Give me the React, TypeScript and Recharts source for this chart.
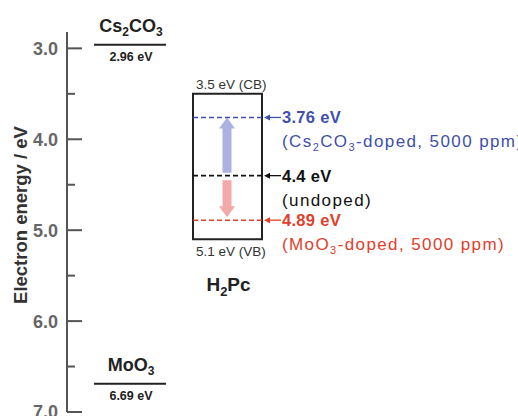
import React from 'react';
import { ComposedChart, XAxis, YAxis, Scatter, ReferenceLine, ReferenceArea } from 'recharts';

// energy axis (eV, increasing downwards)
const yTicks = [3, 3.5, 4, 4.5, 5, 5.5, 6, 6.5, 7];

// dopant work functions
const dopantNames = ['Cs2CO3', 'MoO3'];
const dopantLevels = [2.96, 6.69];

// H2Pc band edges
const hostName = 'H2Pc';
const bandNames = ['CB', 'VB'];
const bandLevels = [3.5, 5.1];

// Fermi levels of the H2Pc films
const fermiLevels = [3.76, 4.4, 4.89];
const fermiNotes = ['(Cs2CO3-doped, 5000 ppm)', '(undoped)', '(MoO3-doped, 5000 ppm)'];

const fermiColors = ['#3f4fac', '#111111', '#e2402a'];
const arrowColors = ['#adb1e2', '#f2a9a9'];
const FONT = '"Liberation Sans", Arial, Helvetica, sans-serif';

// horizontal layout (x axis units = px from the energy axis)
const COL_DOPANT = [27, 99];
const COL_BOX = [126, 195];
const ARROW_X = 160;

// digits right after a letter become subscripts
const chem = (text: string, sub: number, shift: number) => {
  const pieces: { t: string; s: boolean }[] = [];
  for (let i = 0; i < text.length; i++) {
    const c = text[i];
    const s = /\d/.test(c) && i > 0 && /[A-Za-z]/.test(text[i - 1]);
    const last = pieces[pieces.length - 1];
    if (last && !s && !last.s) last.t += c;
    else pieces.push({ t: c, s });
  }
  let down = false;
  return pieces.map((p, i) => {
    let dy = 0;
    if (p.s && !down) { dy = shift; down = true; }
    else if (!p.s && down) { dy = -shift; down = false; }
    return (
      <tspan key={i} dy={dy || undefined} fontSize={p.s ? sub : undefined}>{p.t}</tspan>
    );
  });
};

const EnergyTick = (props: any) => {
  const { x, y, payload } = props;
  const major = Number.isInteger(payload.value);
  return (
    <g>
      <line x1={x} x2={x + (major ? 15 : 8)} y1={y} y2={y} stroke="#555" strokeWidth={2} />
      {major && (
        <text x={x - 9} y={y} dy="0.36em" textAnchor="end" fontFamily={FONT} fontSize={18} fontWeight="bold" fill="#666">
          {payload.value.toFixed(1)}
        </text>
      )}
    </g>
  );
};

const fatArrow = (color: string, startGap: number, tipGap: number) => (p: any) => {
  const { x1, y1, y2 } = p;
  const dir = y2 > y1 ? 1 : -1;
  const ys = y1 + dir * startGap;
  const yt = y2 - dir * tipGap;
  const yh = yt - dir * 11;
  const pts = [
    [x1 - 4.5, ys], [x1 + 4.5, ys], [x1 + 4.5, yh], [x1 + 8, yh],
    [x1, yt], [x1 - 8, yh], [x1 - 4.5, yh],
  ].map((q) => q.join(',')).join(' ');
  return <polygon points={pts} fill={color} />;
};

const fermiPoints = fermiLevels.map((e) => ({ x: (COL_BOX[0] + COL_BOX[1]) / 2, y: e }));

export default function App() {
  return (
    <div style={{ position: 'absolute', left: 0, top: 0, background: '#fff' }}>
      <ComposedChart width={518} height={416} margin={{ top: 32, right: 0, bottom: 4, left: 0 }}>
        <XAxis type="number" dataKey="x" domain={[0, 451]} allowDataOverflow hide />
        <YAxis type="number" dataKey="y" reversed domain={[2.82, 7]} allowDataOverflow ticks={yTicks} interval={0} width={67}
          tickSize={0} tickMargin={0} tickLine={false} tick={<EnergyTick />}
          axisLine={{ stroke: '#555', strokeWidth: 2 }}
          label={{
            position: 'insideLeft',
            content: ({ viewBox }: any) => {
              const cx = viewBox.x + 20;
              const cy = viewBox.y + viewBox.height / 2 - 7;
              return (
                <text x={cx} y={cy} transform={`rotate(-90 ${cx} ${cy})`} textAnchor="middle" dy="0.36em"
                  fontFamily={FONT} fontSize={18.5} fontWeight="bold" fill="#333">
                  Electron energy / eV
                </text>
              );
            },
          }} />
        <Scatter data={fermiPoints} dataKey="y" shape={() => <g />} isAnimationActive={false} />

        {dopantLevels.map((e, i) => (
          <ReferenceLine key={dopantNames[i]} segment={[{ x: COL_DOPANT[0], y: e }, { x: COL_DOPANT[1], y: e }]}
            stroke="#222" strokeWidth={2}
            label={{
              content: ({ viewBox }: any) => {
                const cx = viewBox.x + viewBox.width / 2 + 1;
                return (
                  <g fontFamily={FONT} fontWeight="bold" fill="#222">
                    <text x={cx} y={viewBox.y - 13} textAnchor="middle" fontSize={18}>{chem(dopantNames[i], 12, 4)}</text>
                    <text x={cx} y={viewBox.y + 16} textAnchor="middle" fontSize={12.5}>{e.toFixed(2)} eV</text>
                  </g>
                );
              },
            }} />
        ))}

        <ReferenceArea x1={COL_BOX[0]} x2={COL_BOX[1]} y1={bandLevels[0]} y2={bandLevels[1]}
          fill="none" fillOpacity={0} stroke="#222" strokeWidth={2}
          label={{
            content: ({ viewBox }: any) => {
              const { x, y, width, height } = viewBox;
              return (
                <g fontFamily={FONT} fill="#333">
                  <text x={x + 3} y={y - 5} fontSize={13.5}>{bandLevels[0].toFixed(1)} eV ({bandNames[0]})</text>
                  <text x={x + 3} y={y + height + 17} fontSize={13.5}>{bandLevels[1].toFixed(1)} eV ({bandNames[1]})</text>
                  <text x={x + width / 2 + 1} y={y + height + 52} textAnchor="middle" fontSize={19} fontWeight="bold" fill="#222">
                    {chem(hostName, 13, 5)}
                  </text>
                </g>
              );
            },
          }} />

        {[0, 2].map((k, j) => (
          <ReferenceLine key={'arrow' + k} segment={[{ x: ARROW_X, y: fermiLevels[1] }, { x: ARROW_X, y: fermiLevels[k] }]}
            shape={fatArrow(arrowColors[j], j === 0 ? 3 : 4.5, j === 0 ? 0 : 3)} />
        ))}

        {fermiLevels.map((e, i) => (
          <ReferenceLine key={'f' + i} segment={[{ x: COL_BOX[0], y: e }, { x: COL_BOX[1], y: e }]}
            stroke={fermiColors[i]} strokeWidth={1.6} strokeDasharray="5 3"
            label={{
              content: ({ viewBox }: any) => {
                const ex = viewBox.x + viewBox.width;
                const y = viewBox.y;
                const c = fermiColors[i];
                return (
                  <g fontFamily={FONT} fill={c}>
                    <line x1={ex + 6} x2={ex + 19} y1={y} y2={y} stroke={c} strokeWidth={1.3} />
                    <polygon points={`${ex + 2},${y} ${ex + 8},${y - 3} ${ex + 8},${y + 3}`} fill={c} />
                    <text x={ex + 20} y={y + 6} fontSize={16.5} fontWeight="bold" letterSpacing={0.3}>{e} eV</text>
                    <text x={ex + 20} y={y + 30} fontSize={17} letterSpacing={1.4}>{chem(fermiNotes[i], 11, 4)}</text>
                  </g>
                );
              },
            }} />
        ))}
      </ComposedChart>
    </div>
  );
}
